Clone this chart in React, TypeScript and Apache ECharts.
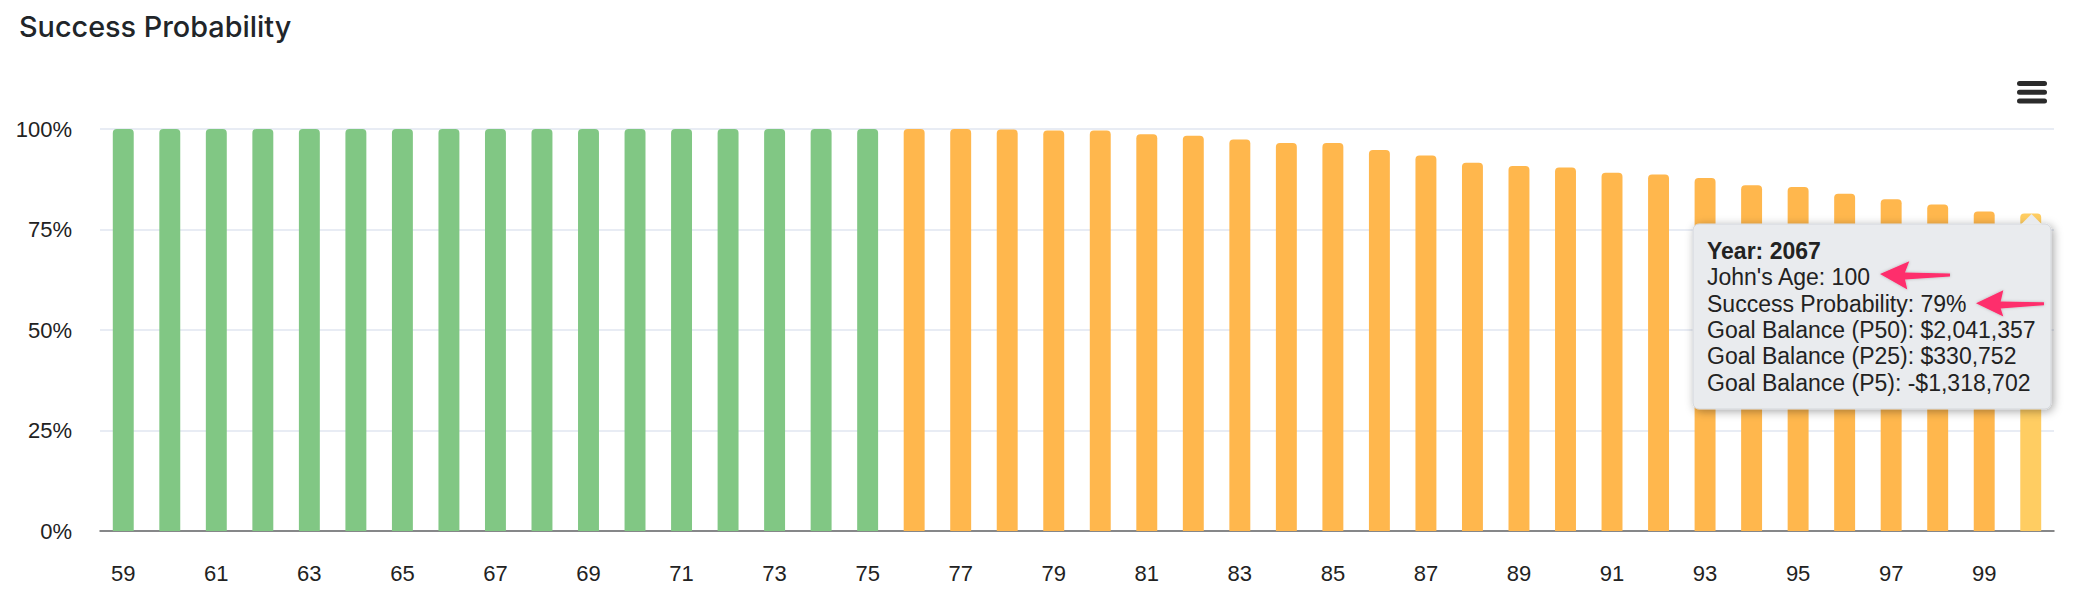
import React, { useEffect, useRef } from "react";
import * as echarts from "echarts";

const ages = [
  "59", "60", "61", "62", "63", "64", "65", "66", "67", "68", "69", "70", "71", "72",
  "73", "74", "75", "76", "77", "78", "79", "80", "81", "82", "83", "84", "85", "86",
  "87", "88", "89", "90", "91", "92", "93", "94", "95", "96", "97", "98", "99", "100",
];
const successProbability = [
  100, 100, 100, 100, 100, 100, 100, 100, 100, 100, 100, 100, 100, 100, 100, 100, 100,
  100, 100, 99.9,
  99.6, 99.6, 98.7, 98.3, 97.4, 96.5, 96.5, 94.8,
  93.4, 91.6, 90.8, 90.4, 89.1, 88.7, 87.8, 86.0, 85.6, 83.9, 82.5, 81.2, 79.5, 79.0,
];
const yTicks = [0, 25, 50, 75, 100];
const retirementAge = 76;
const tooltipAge = "100";
const tooltipYear = 2067;
const goalBalanceP50 = 2041357;
const goalBalanceP25 = 330752;
const goalBalanceP5 = -1318702;

const GREEN = "#81c784";
const ORANGE = "#ffb74d";
const HIGHLIGHT = "#ffcd62";

function money(v: number): string {
  const s = Math.abs(Math.round(v)).toString().replace(/\B(?=(\d{3})+(?!\d))/g, ",");
  return (v < 0 ? "-$" : "$") + s;
}

export default function App() {
  const ref = useRef<HTMLDivElement>(null);
  useEffect(() => {
    if (!ref.current) return;
    const chart = echarts.init(ref.current, undefined, { renderer: "svg" });
    const hi = ages.indexOf(tooltipAge);
    const data = successProbability.map((v, i) => ({
      value: v,
      itemStyle: {
        color: i === hi ? HIGHLIGHT : Number(ages[i]) >= retirementAge ? ORANGE : GREEN,
      },
    }));

    const tipLines = [
      { text: `Year: ${tooltipYear}`, bold: true },
      { text: `John's Age: ${tooltipAge}` },
      { text: `Success Probability: ${Math.round(successProbability[hi])}%` },
      { text: `Goal Balance (P50): ${money(goalBalanceP50)}` },
      { text: `Goal Balance (P25): ${money(goalBalanceP25)}` },
      { text: `Goal Balance (P5): ${money(goalBalanceP5)}` },
    ];
    const tipX = 1693, tipY = 224, tipW = 358, tipH = 185;
    const tipFill = "#e9ebee";
    const pink = "#fe2e6c";

    const graphic: any[] = [
      // hamburger menu icon
      ...[0, 1, 2].map((k) => ({
        type: "rect",
        z: 100,
        shape: { x: 2017, y: 81 + k * 8.7, width: 30, height: 5, r: 2.5 },
        style: { fill: "#2b2b2b" },
      })),
      // tooltip box
      {
        type: "rect",
        z: 100,
        shape: { x: tipX, y: tipY, width: tipW, height: tipH, r: 6 },
        style: {
          fill: tipFill,
          stroke: "#d3d6db",
          lineWidth: 1,
          shadowBlur: 10,
          shadowColor: "rgba(0,0,0,0.35)",
          shadowOffsetX: 2,
          shadowOffsetY: 2,
        },
      },
      {
        type: "polygon",
        z: 101,
        shape: { points: [[2021, 224.5], [2031.5, 214], [2042, 224.5]] },
        style: { fill: tipFill },
      },
      ...tipLines.map((l, k) => ({
        type: "text",
        z: 102,
        x: 1707,
        y: 251 + k * 26.3,
        style: {
          text: l.text,
          fill: "#222222",
          font: `${l.bold ? "bold " : ""}23px "Liberation Sans"`,
          verticalAlign: "middle",
          align: "left",
        },
      })),
      // pink annotation arrows
      {
        type: "polygon",
        z: 103,
        shape: {
          points: [
            [1880, 274], [1909.3, 261.2], [1905, 272.5], [1950, 273.5],
            [1950, 276.5], [1905, 279.5], [1907.3, 289.5],
          ],
        },
        style: { fill: pink, shadowBlur: 3, shadowColor: "rgba(0,0,0,0.25)" },
      },
      {
        type: "polygon",
        z: 103,
        shape: {
          points: [
            [1976, 303.3], [2003.3, 290.2], [2000.7, 301.5], [2044, 302.2],
            [2044, 305.2], [2000.7, 308.5], [2003.3, 316.5],
          ],
        },
        style: { fill: pink, shadowBlur: 3, shadowColor: "rgba(0,0,0,0.25)" },
      },
    ];

    chart.setOption({
      animation: false,
      backgroundColor: "#ffffff",
      title: {
        text: "Success Probability",
        left: 14,
        top: 7,
        textStyle: { fontFamily: "Inter", fontSize: 28.8, fontWeight: 500, color: "#212529" },
      },
      grid: { left: 100, right: 20, top: 129, bottom: 71, containLabel: false },
      xAxis: {
        type: "category",
        data: ages,
        axisLine: { lineStyle: { color: "#666666", width: 1.5 } },
        axisTick: { alignWithLabel: true, length: 16, interval: 1, lineStyle: { color: "#333333", width: 1 } },
        axisLabel: {
          interval: 1,
          margin: 31,
          fontFamily: "Liberation Sans",
          fontSize: 22,
          color: "#222222",
        },
      },
      yAxis: {
        type: "value",
        min: yTicks[0],
        max: yTicks[yTicks.length - 1],
        interval: yTicks[1] - yTicks[0],
        axisLine: { show: false },
        axisTick: { show: false },
        splitLine: { lineStyle: { color: "#e0e6f1", width: 1.5 } },
        axisLabel: {
          formatter: "{value}%",
          margin: 28,
          fontFamily: "Liberation Sans",
          fontSize: 22,
          color: "#222222",
        },
      },
      series: [
        {
          type: "bar",
          data,
          barWidth: "45%",
          itemStyle: { borderRadius: [4, 4, 0, 0] },
        },
      ],
      graphic,
    });
    return () => chart.dispose();
  }, []);
  return (
    <div
      ref={ref}
      style={{ position: "fixed", left: 0, top: 0, width: 2074, height: 602, background: "#fff" }}
    />
  );
}
